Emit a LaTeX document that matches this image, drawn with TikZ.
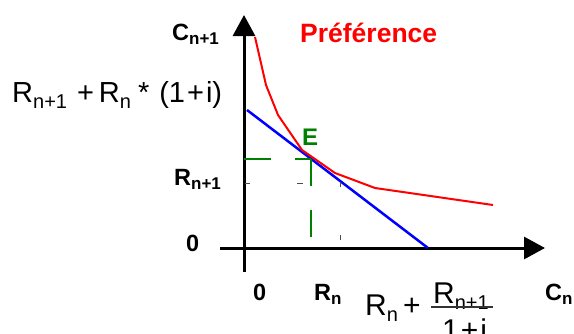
\documentclass[tikz,border=0pt]{standalone}
\usepackage{fontspec}
\setmainfont{Liberation Sans}
\usetikzlibrary{arrows.meta}
\definecolor{egreen}{RGB}{0,128,0}
\definecolor{ered}{RGB}{255,0,0}
\definecolor{eblue}{RGB}{0,0,255}
\newcommand\fsz[1]{\fontsize{#1}{#1}\selectfont}
\newcommand\lowsub[3]{\raisebox{-#1pt}{\fsz{#2}#3}}
\begin{document}
\begin{tikzpicture}[x=1pt,y=-1pt,
  lbl/.style={anchor=base west, inner sep=0pt, font=\fsz{23.5}\bfseries},
  frm/.style={anchor=base west, inner sep=0pt, font=\fsz{29}},
  axisline/.style={line width=3pt, -{Triangle[length=21pt,width=22pt]}},
  guide/.style={egreen, line width=2pt, dash pattern=on 27pt off 24pt},
  tick/.style={black!70, line width=1pt},
  budget/.style={eblue, line width=2.5pt},
  pref/.style={ered, line width=2pt, line join=round}]
\useasboundingbox (0,0) rectangle (574,333);
% axes
\coordinate (ybot) at (244,272);
\coordinate (ytop) at (244,15);
\coordinate (xl) at (220,248);
\coordinate (xr) at (545,248);
\draw[axisline] (ybot) -- (ytop);
\draw[axisline] (xl) -- (xr);
% budget line
\coordinate (b1) at (247,110);
\coordinate (b2) at (428,248);
\draw[budget] (b1) -- (b2);
% preference curve
\draw[pref] (255,37) -- (266,85) -- (278,115) -- (302,150) -- (335,173) -- (375,188) -- (493,205);
% guide lines to E
\coordinate (ge) at (311,159);
\coordinate (gy) at (244,159);
\coordinate (gx) at (311,237);
\draw[guide] (gy) -- (ge);
\draw[guide] (ge) -- (gx);
% small ticks
\coordinate (t1a) at (245,183); \coordinate (t1b) at (250,183);
\coordinate (t2a) at (297,183); \coordinate (t2b) at (303,183);
\coordinate (t3a) at (340,182); \coordinate (t3b) at (340,187);
\coordinate (t4a) at (340,235); \coordinate (t4b) at (340,240);
\draw[tick] (t1a) -- (t1b);
\draw[tick] (t2a) -- (t2b);
\draw[tick] (t3a) -- (t3b);
\draw[tick] (t4a) -- (t4b);
% labels
\node[lbl] (cn1) at (172,40) {C\lowsub{4}{17}{n+1}};
\node[lbl] (rn1) at (174,185) {R\lowsub{4}{17}{n+1}};
\node[lbl] (zl) at (186,251) {0};
\node[lbl] (zb) at (253,300) {0};
\node[lbl] (rn) at (314,300) {R\lowsub{4}{17}{n}};
\node[lbl] (cn) at (545,300) {C\lowsub{4}{17}{n}};
\node[lbl, font=\fsz{26.5}\bfseries, text=ered] (pr) at (300,42) {Préférence};
\node[lbl, font=\fsz{24}\bfseries, text=egreen] (e) at (302,145) {E};
% top-left formula
\node[frm] (f1) at (12,102) {R\lowsub{6}{20}{n+1}\hspace{10pt}+\hspace{5pt}R\lowsub{6}{20}{n}\hspace{7pt}*\hspace{10pt}(1\hspace{2pt}+\hspace{2pt}i)};
% bottom formula
\node[frm, font=\fsz{30}] (f2a) at (365,315) {R\lowsub{6}{20}{n}};
\node[frm, font=\fsz{30}] (f2p) at (403,315) {+};
\node[frm, font=\fsz{30}] (f2n) at (433,303) {R\lowsub{6}{20}{n+1}};
\coordinate (bar1) at (431,307);
\coordinate (bar2) at (493,307);
\draw[line width=1.5pt, black!80] (bar1) -- (bar2);
\node[frm, font=\fsz{30}] (f2d) at (442,340) {1\hspace{2pt}+\hspace{2pt}i};
\end{tikzpicture}
\end{document}
